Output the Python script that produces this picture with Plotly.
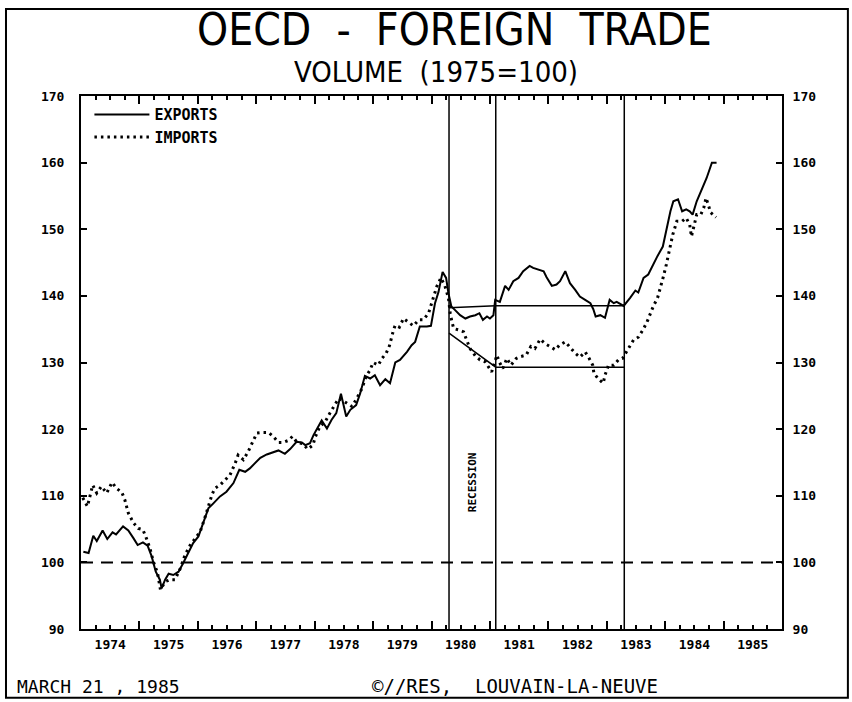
import plotly.graph_objects as go

# OECD foreign trade volume, 1975=100
exp_year = [1974.04, 1974.13, 1974.21, 1974.27, 1974.37, 1974.45, 1974.54, 1974.60, 1974.72, 1974.81,
            1974.90, 1974.97, 1975.06, 1975.14, 1975.21, 1975.28, 1975.35, 1975.38, 1975.44, 1975.50,
            1975.58, 1975.67, 1975.75, 1975.84, 1975.92, 1976.01, 1976.09, 1976.18, 1976.27, 1976.38,
            1976.49, 1976.61, 1976.71, 1976.81, 1976.89, 1976.99, 1977.07, 1977.18, 1977.29, 1977.38,
            1977.49, 1977.58, 1977.69, 1977.78, 1977.84, 1977.92, 1977.98, 1978.04, 1978.12, 1978.21,
            1978.29, 1978.37, 1978.45, 1978.54, 1978.61, 1978.71, 1978.78, 1978.86, 1978.95, 1979.03,
            1979.12, 1979.21, 1979.29, 1979.38, 1979.46, 1979.58, 1979.66, 1979.72, 1979.80, 1979.92,
            1979.99, 1980.06, 1980.12, 1980.19, 1980.25, 1980.29, 1980.34, 1980.40, 1980.49, 1980.58,
            1980.66, 1980.75, 1980.82, 1980.88, 1980.95, 1981.00, 1981.06, 1981.09, 1981.17, 1981.26,
            1981.32, 1981.40, 1981.49, 1981.57, 1981.68, 1981.74, 1981.83, 1981.92, 1981.97, 1982.06,
            1982.14, 1982.20, 1982.29, 1982.37, 1982.46, 1982.54, 1982.63, 1982.72, 1982.77, 1982.81,
            1982.89, 1982.97, 1983.05, 1983.12, 1983.17, 1983.23, 1983.29, 1983.40, 1983.49, 1983.54,
            1983.63, 1983.71, 1983.79, 1983.87, 1983.96, 1984.02, 1984.09, 1984.14, 1984.22, 1984.29,
            1984.36, 1984.42, 1984.47, 1984.54, 1984.63, 1984.71, 1984.80, 1984.88]
exports = [101.6, 101.4, 104.0, 103.2, 104.8, 103.5, 104.5, 104.2, 105.4, 104.8,
           103.6, 102.6, 103.0, 102.5, 100.9, 98.6, 97.4, 96.1, 97.4, 98.3,
           98.1, 98.6, 99.9, 101.6, 102.9, 103.9, 105.9, 108.1, 108.9, 109.9,
           110.6, 111.9, 113.9, 113.6, 114.1, 115.0, 115.7, 116.2, 116.5, 116.8,
           116.3, 117.0, 118.1, 118.0, 117.6, 117.9, 119.1, 120.1, 121.3, 120.1,
           121.4, 122.4, 125.3, 121.9, 122.9, 123.6, 125.4, 128.0, 127.6, 128.1,
           126.6, 127.5, 126.9, 130.0, 130.4, 131.6, 132.6, 133.1, 135.4, 135.4,
           135.5, 138.9, 140.6, 143.6, 142.7, 140.4, 138.4, 137.9, 137.1, 136.6,
           136.9, 137.1, 137.4, 136.4, 136.9, 136.6, 137.1, 139.4, 139.1, 141.5,
           140.9, 142.2, 142.7, 143.7, 144.5, 144.2, 143.9, 143.7, 142.8, 141.5,
           141.7, 142.2, 143.7, 141.9, 140.9, 139.9, 139.4, 138.9, 138.0, 136.9,
           137.1, 136.7, 139.4, 138.9, 139.1, 138.8, 138.5, 139.7, 140.8, 140.5,
           142.7, 143.2, 144.7, 146.0, 147.4, 149.9, 152.7, 154.2, 154.5, 152.7,
           153.0, 152.7, 152.2, 154.2, 156.0, 157.7, 160.0, 160.0]

imp_year = [1974.03, 1974.11, 1974.20, 1974.27, 1974.35, 1974.44, 1974.53, 1974.61, 1974.70, 1974.75,
            1974.81, 1974.90, 1974.98, 1975.06, 1975.12, 1975.18, 1975.24, 1975.31, 1975.36, 1975.44,
            1975.52, 1975.61, 1975.70, 1975.78, 1975.87, 1975.95, 1976.04, 1976.11, 1976.18, 1976.24,
            1976.29, 1976.38, 1976.47, 1976.55, 1976.64, 1976.69, 1976.78, 1976.86, 1976.94, 1977.01,
            1977.11, 1977.21, 1977.29, 1977.38, 1977.46, 1977.55, 1977.62, 1977.70, 1977.80, 1977.88,
            1977.97, 1978.01, 1978.09, 1978.18, 1978.26, 1978.33, 1978.41, 1978.48, 1978.56, 1978.64,
            1978.72, 1978.81, 1978.88, 1978.95, 1979.00, 1979.09, 1979.15, 1979.22, 1979.28, 1979.31,
            1979.35, 1979.38, 1979.45, 1979.52, 1979.60, 1979.69, 1979.78, 1979.86, 1979.95, 1980.02,
            1980.09, 1980.16, 1980.23, 1980.29, 1980.32, 1980.35, 1980.38, 1980.46, 1980.55, 1980.60,
            1980.66, 1980.75, 1980.83, 1980.92, 1981.00, 1981.03, 1981.12, 1981.16, 1981.22, 1981.29,
            1981.36, 1981.45, 1981.53, 1981.62, 1981.70, 1981.77, 1981.86, 1981.95, 1982.03, 1982.12,
            1982.19, 1982.29, 1982.36, 1982.46, 1982.54, 1982.63, 1982.70, 1982.76, 1982.78, 1982.86,
            1982.94, 1982.97, 1983.03, 1983.12, 1983.20, 1983.27, 1983.33, 1983.39, 1983.46, 1983.54,
            1983.62, 1983.69, 1983.74, 1983.80, 1983.87, 1983.93, 1983.97, 1984.02, 1984.06, 1984.10,
            1984.13, 1984.20, 1984.29, 1984.36, 1984.42, 1984.45, 1984.48, 1984.54, 1984.61, 1984.66,
            1984.70, 1984.74, 1984.78, 1984.87]
imports = [109.7, 108.4, 111.6, 110.4, 111.4, 110.4, 112.0, 111.1, 110.5, 109.4,
           107.4, 105.9, 105.1, 104.9, 103.6, 102.1, 100.1, 98.4, 95.9, 97.1,
           97.4, 97.4, 99.1, 101.1, 102.6, 103.6, 104.6, 106.4, 108.6, 110.1,
           111.1, 111.6, 112.4, 113.1, 114.9, 116.1, 115.4, 116.6, 118.1, 119.4,
           119.5, 119.5, 118.9, 118.0, 118.0, 118.3, 118.9, 118.0, 117.8, 117.0,
           117.6, 118.8, 120.4, 121.1, 122.4, 123.4, 124.6, 124.3, 123.8, 123.4,
           124.6, 126.1, 127.9, 128.9, 130.0, 129.6, 130.6, 131.3, 132.5, 133.6,
           134.9, 135.6, 135.3, 136.6, 136.1, 135.5, 136.4, 136.4, 137.4, 139.6,
           141.4, 142.7, 141.5, 139.7, 137.4, 136.1, 135.1, 134.9, 134.6, 133.4,
           132.1, 131.0, 130.4, 130.1, 129.1, 128.6, 131.1, 130.1, 129.1, 130.6,
           129.6, 130.6, 130.9, 131.1, 132.4, 132.1, 133.5, 132.8, 132.4, 131.9,
           132.6, 133.1, 132.4, 131.4, 130.8, 131.6, 130.6, 129.6, 128.4, 127.5,
           126.9, 128.1, 129.6, 129.6, 130.4, 130.6, 131.5, 132.4, 133.4, 133.8,
           134.9, 136.1, 137.3, 138.5, 139.7, 141.4, 142.9, 144.7, 146.2, 147.7,
           149.2, 151.2, 151.2, 151.7, 150.7, 148.9, 149.9, 152.2, 152.2, 153.2,
           154.7, 153.7, 152.5, 151.8]

# recession markers: peak, trough, recovery to previous peak
marker_year = [1980.3, 1981.1, 1983.3]
exp_trend = [138.2, 138.5, 138.5]
imp_trend = [134.4, 129.3, 129.3]

years = list(range(1974, 1986))
year_labels = [str(y) for y in years]
y_ticks = [90, 100, 110, 120, 130, 140, 150, 160, 170]
y_labels = [str(v) for v in y_ticks]

tick_font = dict(family="DejaVu Sans Mono", size=13, color="black", weight="bold")
title_family = "Liberation Sans Narrow, DejaVu Sans Condensed, DejaVu Sans, sans-serif"

fig = go.Figure()

fig.add_trace(go.Scatter(x=exp_year, y=exports, mode="lines", name="EXPORTS",
                         line=dict(color="black", width=2)))
fig.add_trace(go.Scatter(x=imp_year, y=imports, mode="lines", name="IMPORTS",
                         line=dict(color="black", width=3, dash="2.5px,4px")))
fig.add_trace(go.Scatter(x=marker_year, y=exp_trend, mode="lines", showlegend=False,
                         line=dict(color="black", width=1.5), hoverinfo="skip"))
fig.add_trace(go.Scatter(x=marker_year, y=imp_trend, mode="lines", showlegend=False,
                         line=dict(color="black", width=1.5), hoverinfo="skip",
                         xaxis="x2", yaxis="y2"))

for yr in marker_year:
    fig.add_shape(type="line", xref="x", yref="y", x0=yr, x1=yr, y0=90, y1=170,
                  line=dict(color="black", width=1.5))

# base level 100
fig.add_shape(type="line", xref="paper", yref="y", x0=0, x1=1, y0=100, y1=100,
              line=dict(color="black", width=2, dash="12px,8px"))

# outer frame of the sheet
fig.add_shape(type="rect", xref="paper", yref="paper", x0=-0.107, x1=1.094, y0=-0.129, y1=1.163,
              line=dict(color="black", width=2))

fig.add_annotation(x=1980.7, y=112.1, xref="x", yref="y", text="RECESSION", textangle=-90,
                   showarrow=False, xanchor="center", yanchor="middle",
                   font=dict(family="DejaVu Sans Mono", size=11, color="black", weight="bold"))

fig.add_annotation(x=0.5335, y=1.1257, xref="paper", yref="paper", showarrow=False,
                   xanchor="center", yanchor="middle",
                   text="OECD\u00a0\u00a0-\u00a0\u00a0FOREIGN\u00a0\u00a0TRADE",
                   font=dict(family=title_family, size=44, color="black"))
fig.add_annotation(x=0.506, y=1.045, xref="paper", yref="paper", showarrow=False,
                   xanchor="center", yanchor="middle",
                   text="VOLUME\u00a0\u00a0(1975=100)",
                   font=dict(family=title_family, size=29, color="black"))
fig.add_annotation(x=-0.094, y=-0.107, xref="paper", yref="paper", showarrow=False,
                   xanchor="left", yanchor="middle",
                   text="MARCH 21 , 1985",
                   font=dict(family="DejaVu Sans Mono", size=18, color="black"))
fig.add_annotation(x=0.412, y=-0.107, xref="paper", yref="paper", showarrow=False,
                   xanchor="left", yanchor="middle",
                   text="©//RES,\u00a0\u00a0LOUVAIN-LA-NEUVE",
                   font=dict(family="DejaVu Sans Mono", size=19, color="black"))

fig.update_layout(
    width=852, height=702,
    margin=dict(l=81, r=70, t=96, b=73),
    paper_bgcolor="white", plot_bgcolor="white",
    showlegend=True,
    legend=dict(x=0.012, y=0.996, xanchor="left", yanchor="top", bgcolor="rgba(0,0,0,0)",
                font=dict(family="DejaVu Sans Mono", size=15, color="black", weight="bold"),
                tracegroupgap=0, itemwidth=55),
    xaxis=dict(range=[1974, 1986], tickvals=years + [1986], showticklabels=False,
               ticks="inside", ticklen=8, tickwidth=1.5, tickcolor="black",
               minor=dict(dtick=0.25, tick0=1974, ticks="inside", ticklen=4, tickwidth=1.5, tickcolor="black"),
               showline=True, linecolor="black", linewidth=2, mirror="ticks",
               showgrid=False, zeroline=False),
    xaxis2=dict(overlaying="x", matches="x", anchor="y", side="bottom",
                tickvals=[y + 0.5 for y in years], ticktext=year_labels, ticks="",
                tickfont=tick_font, ticklabelstandoff=6,
                showline=False, showgrid=False, zeroline=False),
    yaxis=dict(range=[90, 170], tickvals=y_ticks, ticktext=y_labels, tickfont=tick_font,
               ticks="inside", ticklen=6, tickwidth=1.5, tickcolor="black", ticklabelstandoff=12,
               showline=True, linecolor="black", linewidth=2, showgrid=False, zeroline=False),
    yaxis2=dict(overlaying="y", matches="y", anchor="x", side="right",
                tickvals=y_ticks, ticktext=y_labels, tickfont=tick_font,
                ticks="inside", ticklen=6, tickwidth=1.5, tickcolor="black", ticklabelstandoff=6,
                showline=True, linecolor="black", linewidth=2, showgrid=False, zeroline=False),
)

# the default page keeps an 8px body margin; drop it so the sheet sits at the window corner
fig.write_html("out.html", config={"displayModeBar": False},
               post_script="document.body.style.margin='0';")
